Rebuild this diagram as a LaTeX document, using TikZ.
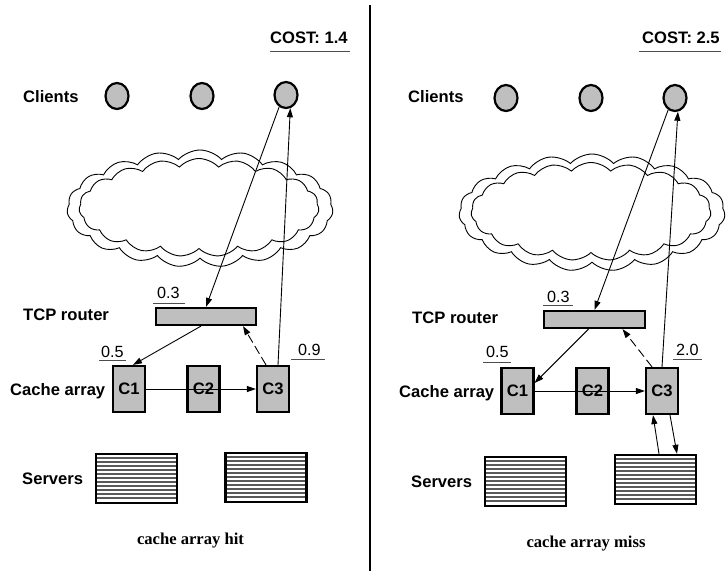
\documentclass[tikz,border=0pt]{standalone}
\usepackage{fontspec}
\setmainfont{Liberation Serif}
\setsansfont{Liberation Sans}
\usetikzlibrary{arrows.meta,shapes.geometric,shapes.symbols}
\definecolor{boxgray}{gray}{0.75}
\tikzset{
  lab/.style={anchor=base west, inner sep=0pt, font=\sffamily\bfseries\fontsize{16.6}{19}\selectfont},
  num/.style={anchor=base west, inner sep=0pt, font=\sffamily\fontsize{16.2}{19}\selectfont},
  capt/.style={anchor=base, inner sep=0pt, font=\rmfamily\bfseries\fontsize{16.6}{19}\selectfont},
  client/.style={ellipse, draw, line width=2.2pt, fill=boxgray, minimum width=23pt, minimum height=26pt, inner sep=0pt},
  router/.style={rectangle, draw, line width=2.2pt, fill=boxgray, minimum width=100pt, minimum height=17pt, inner sep=0pt},
  cachebox/.style={rectangle, draw, line width=2.2pt, fill=boxgray, minimum width=32pt, minimum height=46pt, inner sep=0pt, font=\sffamily\bfseries\fontsize{16.6}{19}\selectfont},
  server/.style={rectangle, draw, line width=2.4pt, minimum width=81pt, minimum height=49pt, inner sep=0pt,
    path picture={\foreach \k in {1,...,11}
      \draw[line width=1.4pt, black!65] ([yshift=-\k*4pt]path picture bounding box.north west) -- ([yshift=-\k*4pt]path picture bounding box.north east);}},
  cloudline/.style={cloud, draw, line width=0.9pt, cloud puffs=19, cloud puff arc=95, aspect=2.0, inner sep=0pt},
  arr/.style={-{Triangle[length=9pt,width=6pt]}, line width=0.9pt},
  dsh/.style={arr, dash pattern=on 9pt off 4pt},
  ul/.style={line width=1pt, black!70},
  divider/.style={line width=2.5pt}
}
\begin{document}
\begin{tikzpicture}[x=1pt,y=-1pt]
\useasboundingbox (0,0) rectangle (727,571);

% divider
\coordinate (dtop) at (370,5);
\coordinate (dbot) at (370,571);
\draw[divider] (dtop) -- (dbot);

% ================= LEFT PANEL =================
\node[lab] (Lcost) at (270,43.5) {COST: 1.4};
\draw[ul] ([yshift=-7.5pt]Lcost.base west) -- ([xshift=2pt,yshift=-7.5pt]Lcost.base east);

\node[lab] (Lclients) at (23,102) {Clients};
\node[client] (Lc1) at (117,96) {};
\node[client] (Lc2) at (202,96) {};
\node[client] (Lc3) at (286,95) {};

\node[cloudline, minimum width=266pt, minimum height=117pt] (Lcloudo) at (200,208.5) {};
\node[cloudline, minimum width=240pt, minimum height=98pt] (Lcloudi) at (199,207.5) {};

\node[lab] (Ltcp) at (23,320) {TCP router};
\node[router] (Lrouter) at (206,316.5) {};
\node[num] (L03) at (157,298) {0.3};
\draw[ul] ([xshift=-4pt,yshift=-5pt]L03.base west) -- ([xshift=5pt,yshift=-5pt]L03.base east);

\node[lab] (Lcache) at (10,395) {Cache array};
\node[cachebox] (LC1) at (129,389) {C1};
\node[cachebox] (LC2) at (203.5,389) {C2};
\node[cachebox] (LC3) at (273,389) {C3};
\node[num] (L05) at (101,357) {0.5};
\draw[ul] ([xshift=-2pt,yshift=-3.5pt]L05.base west) -- ([xshift=2pt,yshift=-3.5pt]L05.base east);
\node[num] (L09) at (298,355) {0.9};
\draw[ul] ([xshift=-7pt,yshift=-4pt]L09.base west) -- ([xshift=4pt,yshift=-4pt]L09.base east);

\node[lab] (Lservers) at (22,484) {Servers};
\node[server] (Ls1) at (136.5,478.5) {};
\node[server] (Ls2) at (266,477.5) {};

\node[capt] (Lcap) at (190.5,544) {cache array hit};

% left arrows
\draw[arr] (Lc3.240) -- (Lrouter.north);
\draw[arr] ([xshift=5pt]LC3.north) -- (Lc3.288);
\draw[arr] ([xshift=-5pt]Lrouter.south) -- ([xshift=4pt]LC1.north);
\draw[dsh] ([xshift=-7pt]LC3.north) -- ([xshift=37pt]Lrouter.south);
\draw[arr] (LC1.east) -- (LC3.west);

% ================= RIGHT PANEL =================
\node[lab] (Rcost) at (642,43.5) {COST: 2.5};
\draw[ul] ([xshift=-3pt,yshift=-7.5pt]Rcost.base west) -- ([xshift=1pt,yshift=-7.5pt]Rcost.base east);

\node[lab] (Rclients) at (408,102) {Clients};
\node[client] (Rc1) at (506,98) {};
\node[client] (Rc2) at (591,98) {};
\node[client] (Rc3) at (675,98) {};

\node[cloudline, minimum width=266pt, minimum height=117pt] (Rcloudo) at (592,212.5) {};
\node[cloudline, minimum width=240pt, minimum height=98pt] (Rcloudi) at (591,211.5) {};

\node[lab] (Rtcp) at (412,323) {TCP router};
\node[router, minimum width=101pt] (Rrouter) at (594.5,319.5) {};
\node[num] (R03) at (547,302) {0.3};
\draw[ul] ([xshift=-4pt,yshift=-3pt]R03.base west) -- ([xshift=3pt,yshift=-3pt]R03.base east);

\node[lab] (Rcache) at (399,397) {Cache array};
\node[cachebox] (RC1) at (517.5,391) {C1};
\node[cachebox] (RC2) at (592.5,391) {C2};
\node[cachebox] (RC3) at (662,391) {C3};
\node[num] (R05) at (486,357) {0.5};
\draw[ul] ([xshift=-3pt,yshift=-5pt]R05.base west) -- ([xshift=2pt,yshift=-5pt]R05.base east);
\node[num] (R20) at (676,355) {2.0};
\draw[ul] ([xshift=-3pt,yshift=-4pt]R20.base west) -- ([xshift=3pt,yshift=-4pt]R20.base east);

\node[lab] (Rservers) at (411,487) {Servers};
\node[server] (Rs1) at (525.5,481.5) {};
\node[server] (Rs2) at (655.5,479.5) {};

\node[capt] (Rcap) at (586,547) {cache array miss};

% right arrows
\draw[arr] (Rc3.240) -- (Rrouter.north);
\draw[arr] (RC3.north) -- (Rc3.282);
\draw[arr] ([xshift=-6pt]Rrouter.south) -- ([yshift=8pt]RC1.east);
\draw[dsh] ([xshift=-10pt]RC3.north) -- ([xshift=28pt]Rrouter.south);
\draw[arr] (RC1.east) -- (RC3.west);
\draw[arr] ([xshift=3.5pt]Rs2.north) -- ([xshift=-9pt]RC3.south);
\draw[arr] ([xshift=8pt]RC3.south) -- ([xshift=21.5pt]Rs2.north);
\end{tikzpicture}
\end{document}
